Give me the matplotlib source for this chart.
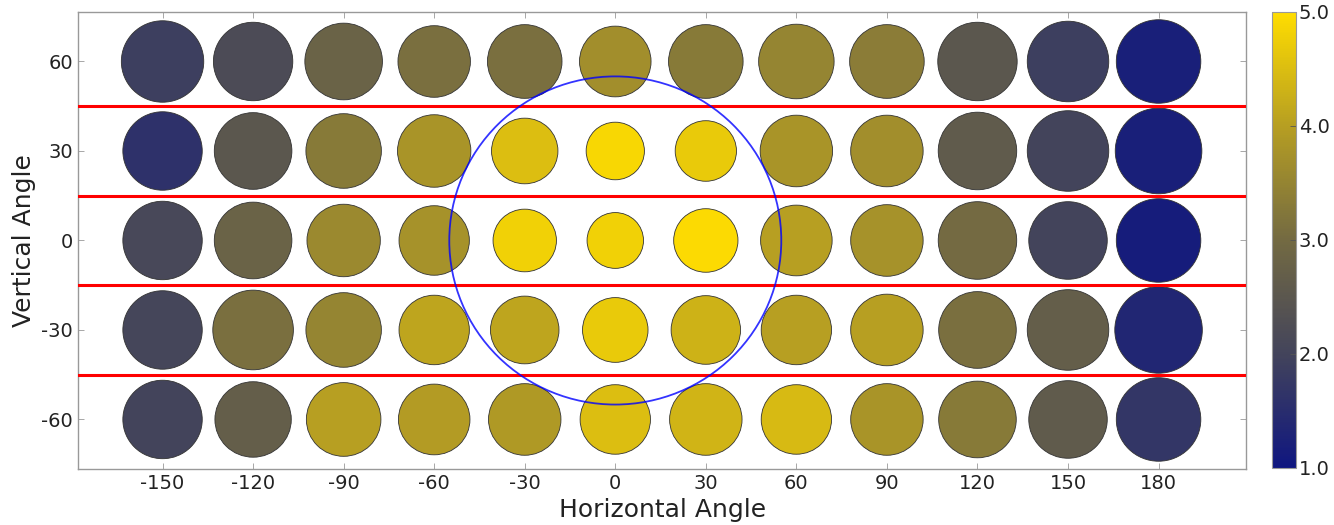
import numpy as np
import matplotlib
matplotlib.use("Agg")
import matplotlib.pyplot as plt
from matplotlib.colors import LinearSegmentedColormap, Normalize
from matplotlib.collections import PatchCollection
from matplotlib.patches import Circle

plt.rcParams["axes.unicode_minus"] = False
plt.rcParams["font.family"] = "DejaVu Sans"

# grid of stimulus directions (degrees)
h_angles = [-150, -120, -90, -60, -30, 0, 30, 60, 90, 120, 150, 180]
v_angles = [60, 30, 0, -30, -60]

# mean rating per direction, rows follow v_angles
score = [
    [1.9, 2.2, 2.8, 3.1, 3.1, 3.7, 3.3, 3.5, 3.35, 2.5, 1.9, 1.2],
    [1.6, 2.5, 3.3, 3.8, 4.5, 4.9, 4.7, 3.8, 3.7, 2.6, 2.0, 1.2],
    [2.1, 2.8, 3.6, 3.75, 4.8, 4.8, 4.95, 4.0, 3.75, 3.0, 2.0, 1.15],
    [2.05, 3.1, 3.5, 4.1, 4.1, 4.7, 4.3, 4.0, 4.0, 3.1, 2.7, 1.35],
    [2.0, 2.7, 4.0, 3.95, 3.9, 4.5, 4.35, 4.45, 3.8, 3.3, 2.6, 1.7],
]

# spread of responses per direction (degrees), shown as dot diameter
spread = [
    [27.3, 26.3, 25.7, 24.0, 24.7, 23.7, 24.7, 25.0, 24.7, 26.3, 27.0, 28.0],
    [26.3, 25.7, 25.0, 24.3, 22.0, 19.3, 20.3, 24.0, 24.0, 26.0, 27.0, 28.7],
    [26.3, 25.7, 24.3, 23.3, 21.0, 18.7, 21.3, 23.7, 24.0, 26.0, 26.0, 28.0],
    [26.3, 26.7, 25.0, 23.3, 22.7, 21.7, 23.0, 23.3, 24.0, 25.7, 27.0, 29.0],
    [26.3, 25.3, 24.7, 23.7, 24.0, 23.3, 24.0, 23.3, 24.0, 25.7, 26.0, 28.0],
]

band_edges = [45, 15, -15, -45]
ring_radius = 55

cmap = LinearSegmentedColormap.from_list(
    "navy_gold", ["#0f1680", "#43445b", "#736a42", "#b69e22", "#ffdd00"])
norm = Normalize(vmin=1.0, vmax=5.0)

fig = plt.figure(figsize=(13.34, 5.25), dpi=100)
ax = fig.add_axes([0.0585, 0.1067, 0.8756, 0.8705])
cax = fig.add_axes([0.9535, 0.1086, 0.018, 0.8686])

dots, vals = [], []
for i, v in enumerate(v_angles):
    for j, h in enumerate(h_angles):
        dots.append(Circle((h, v), spread[i][j] / 2.0))
        vals.append(score[i][j])
pc = PatchCollection(dots, cmap=cmap, norm=norm, edgecolor="#333333",
                     linewidth=0.6, zorder=2)
pc.set_array(np.array(vals))
ax.add_collection(pc)

for yb in band_edges:
    ax.axhline(yb, color="red", linewidth=2.2, zorder=3)
ax.add_patch(Circle((0, 0), ring_radius, fill=False, edgecolor="blue",
                    linewidth=1.3, alpha=0.8, zorder=4))

ax.set_xlim(-178, 209)
ax.set_ylim(-76.6, 76.6)
ax.set_xticks(h_angles)
ax.set_yticks(v_angles)
ax.tick_params(direction="in", top=True, right=True, length=4, width=0.6,
               color="#999999", labelsize=14, labelcolor="#222222")
for sp in ax.spines.values():
    sp.set_color("#999999")
    sp.set_linewidth(1.0)
ax.set_xlabel("Horizontal Angle", fontsize=18, color="#222222")
ax.set_ylabel("Vertical Angle", fontsize=18, color="#222222")

cb = fig.colorbar(pc, cax=cax, ticks=[1, 2, 3, 4, 5], format="%.1f")
cb.outline.set_edgecolor("#999999")
cax.tick_params(direction="in", length=4, width=0.6, color="#555555",
                labelsize=14, labelcolor="#222222", pad=2)

fig.savefig("out.png", dpi=100)
